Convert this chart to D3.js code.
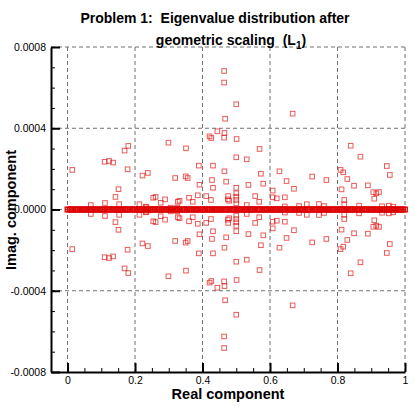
<!DOCTYPE html>
<html>
<head>
<meta charset="utf-8">
<script src="https://cdn.jsdelivr.net/npm/d3@7"></script>
<style>
  body { margin: 0; background: #fff; }
  svg { font-family: "Liberation Sans", Arial, Helvetica, sans-serif; }
</style>
</head>
<body>
<svg id="chart" width="415" height="417"></svg>
<script>
const width = 415;
const height = 417;

// eigenvalues lying on the real axis (imag = 0), densely packed
const realEigs = [
  0.000, 0.006, 0.011, 0.016, 0.022, 0.027, 0.032, 0.038, 0.043, 0.048,
  0.053, 0.059, 0.064, 0.069, 0.074, 0.080, 0.085, 0.090, 0.096, 0.101,
  0.106, 0.111, 0.117, 0.122, 0.127, 0.133, 0.138, 0.143, 0.148, 0.154,
  0.159, 0.164, 0.170, 0.175, 0.180, 0.185, 0.191, 0.196, 0.201, 0.207,
  0.212, 0.217, 0.222, 0.228, 0.233, 0.238, 0.244, 0.249, 0.254, 0.259,
  0.265, 0.270, 0.275, 0.281, 0.286, 0.291, 0.296, 0.302, 0.307, 0.312,
  0.318, 0.323, 0.328, 0.333, 0.339, 0.344, 0.349, 0.355, 0.360, 0.365,
  0.370, 0.376, 0.381, 0.386, 0.392, 0.397, 0.402, 0.407, 0.413, 0.418,
  0.423, 0.429, 0.434, 0.439, 0.444, 0.450, 0.455, 0.460, 0.466, 0.471,
  0.476, 0.481, 0.487, 0.492, 0.497, 0.503, 0.508, 0.513, 0.518, 0.524,
  0.529, 0.534, 0.540, 0.545, 0.550, 0.555, 0.561, 0.566, 0.571, 0.577,
  0.582, 0.587, 0.592, 0.598, 0.603, 0.608, 0.614, 0.619, 0.624, 0.629,
  0.635, 0.640, 0.645, 0.651, 0.656, 0.661, 0.666, 0.672, 0.677, 0.682,
  0.688, 0.693, 0.698, 0.703, 0.709, 0.714, 0.719, 0.725, 0.730, 0.735,
  0.740, 0.746, 0.751, 0.756, 0.762, 0.767, 0.772, 0.777, 0.783, 0.788,
  0.793, 0.799, 0.804, 0.809, 0.814, 0.820, 0.825, 0.830, 0.836, 0.841,
  0.846, 0.851, 0.857, 0.862, 0.867, 0.873, 0.878, 0.883, 0.888, 0.894,
  0.899, 0.904, 0.910, 0.915, 0.920, 0.925, 0.931, 0.936, 0.941, 0.947,
  0.952, 0.957, 0.962, 0.968, 0.973, 0.978, 0.984, 0.989, 0.994, 1.000
];

// complex conjugate pairs: real part and |imag| part (x 1e-4)
const pairRe = [
  0.014, 0.180, 0.169, 0.110, 0.123, 0.135, 0.178, 0.222, 0.238, 0.151,
  0.142, 0.111, 0.069, 0.153, 0.213, 0.234,
  0.464, 0.464, 0.467, 0.299, 0.351, 0.421, 0.426, 0.444, 0.465, 0.464,
  0.389, 0.431, 0.465, 0.319, 0.350, 0.356, 0.428, 0.470, 0.391, 0.431,
  0.386, 0.411, 0.360, 0.254, 0.261, 0.289, 0.371, 0.332, 0.327, 0.276,
  0.425, 0.476, 0.475, 0.479, 0.232, 0.306, 0.325,
  0.667, 0.500, 0.501, 0.569, 0.531, 0.500, 0.628, 0.573, 0.649, 0.725,
  0.671, 0.580, 0.536, 0.500, 0.500, 0.500, 0.500, 0.500, 0.556, 0.568,
  0.644, 0.620, 0.608, 0.608, 0.531, 0.686, 0.709, 0.745, 0.644,
  0.839, 0.868, 0.946, 0.955, 0.809, 0.817, 0.829, 0.849, 0.890, 0.767,
  0.812, 0.906, 0.915, 0.923, 0.909, 0.820, 0.820, 0.760, 0.864, 0.932,
  0.952, 0.965
];
const pairIm = [
  1.95, 3.13, 2.90, 2.35, 2.39, 2.31, 1.98, 1.67, 1.80, 1.00,
  0.62, 0.32, 0.22, 0.26, 0.26, 0.11,
  6.82, 6.25, 4.47, 3.29, 3.01, 3.60, 3.52, 3.85, 3.77, 3.54,
  2.16, 2.16, 1.88, 1.55, 1.63, 1.55, 1.45, 1.37, 1.22, 1.07,
  0.70, 0.66, 0.58, 0.58, 0.62, 0.50, 0.38, 0.43, 0.38, 0.33,
  0.47, 0.66, 0.50, 0.43, 0.14, 0.09, 0.09,
  4.72, 5.18, 3.47, 2.98, 2.47, 2.57, 1.88, 1.76, 1.40, 1.62,
  1.02, 1.27, 1.21, 1.07, 0.80, 0.63, 0.47, 0.30, 0.66, 0.38,
  0.60, 0.55, 0.93, 0.60, 0.22, 0.17, 0.26, 0.27, 0.15,
  3.14, 2.60, 2.14, 1.70, 1.95, 1.83, 1.50, 1.17, 1.19, 1.45,
  0.99, 0.85, 0.80, 0.86, 0.53, 0.47, 0.26, 0.17, 0.19, 0.16,
  0.19, 0.14
];

const xTicks = [0, 0.2, 0.4, 0.6, 0.8, 1];
const yTicks = [-0.0008, -0.0004, 0, 0.0004, 0.0008];

function complexPoints() {
  const pts = [];
  pairRe.forEach((r, i) => {
    pts.push({ re: r, im: pairIm[i] * 1e-4 });
    pts.push({ re: r, im: -pairIm[i] * 1e-4 });
  });
  return pts;
}

function drawChart() {
  const svg = d3.select("#chart");

  const x = d3.scaleLinear().domain([-0.049, 1]).range([51, 405]);
  const y = d3.scaleLinear().domain([-0.0008, 0.0008]).range([372, 47]);

  // dashed grid
  const grid = svg.append("g")
    .attr("stroke", "#707070")
    .attr("stroke-width", 1)
    .attr("stroke-dasharray", "4,3");

  grid.selectAll("line.v")
    .data(xTicks)
    .join("line")
      .attr("class", "v")
      .attr("x1", d => x(d)).attr("x2", d => x(d))
      .attr("y1", y(0.0008)).attr("y2", y(-0.0008));

  grid.selectAll("line.h")
    .data(yTicks.filter(d => d > -0.0008))
    .join("line")
      .attr("class", "h")
      .attr("x1", x(-0.049)).attr("x2", x(1))
      .attr("y1", d => y(d)).attr("y2", d => y(d));

  // eigenvalues as open squares
  const s = 4.6;
  svg.append("g")
    .attr("fill", "none")
    .attr("stroke", "#e00000")
    .attr("stroke-opacity", 0.65)
    .attr("stroke-width", 1)
    .selectAll("rect")
    .data(complexPoints())
    .join("rect")
      .attr("x", d => x(d.re) - s / 2)
      .attr("y", d => y(d.im) - s / 2)
      .attr("width", s)
      .attr("height", s);

  // real eigenvalues: so many squares they merge into a solid bar
  svg.append("g")
    .attr("fill", "none")
    .attr("stroke", "#dd0000")
    .attr("stroke-opacity", 0.9)
    .attr("stroke-width", 1.5)
    .selectAll("rect")
    .data(realEigs)
    .join("rect")
      .attr("x", d => x(d) - s / 2)
      .attr("y", y(0) - s / 2)
      .attr("width", s)
      .attr("height", s);

  // axes: minor ticks
  svg.append("g")
    .attr("transform", `translate(0,${y(-0.0008)})`)
    .call(d3.axisBottom(x).tickValues(d3.range(0.05, 1, 0.05)).tickSizeInner(-4).tickSizeOuter(0).tickFormat(""))
    .call(g => g.select(".domain").remove())
    .call(g => g.selectAll("line").attr("stroke-width", 1));

  svg.append("g")
    .attr("transform", `translate(${x(-0.049)},0)`)
    .call(d3.axisLeft(y).tickValues(d3.range(-0.0007, 0.0008, 0.0001)).tickSizeInner(-4).tickSizeOuter(0).tickFormat(""))
    .call(g => g.select(".domain").remove())
    .call(g => g.selectAll("line").attr("stroke-width", 1));

  // axes: major ticks with labels
  svg.append("g")
    .attr("transform", `translate(0,${y(-0.0008)})`)
    .call(d3.axisBottom(x).tickValues(xTicks).tickSizeInner(-9).tickSizeOuter(0).tickPadding(5).tickFormat(d => String(d)))
    .call(g => g.select(".domain").attr("stroke-width", 2))
    .call(g => g.selectAll("line").attr("stroke-width", 2))
    .call(g => g.selectAll("text").attr("font-size", 10.5).attr("fill", "#000").attr("font-family", null));

  svg.append("g")
    .attr("transform", `translate(${x(-0.049)},0)`)
    .call(d3.axisLeft(y).tickValues(yTicks).tickSizeInner(-9).tickSizeOuter(0).tickPadding(5).tickFormat(d => d.toFixed(4)))
    .call(g => g.select(".domain").attr("stroke-width", 2))
    .call(g => g.selectAll("line").attr("stroke-width", 2))
    .call(g => g.selectAll("text").attr("font-size", 10.5).attr("fill", "#000").attr("font-family", null));

  // axis titles
  svg.append("text")
    .attr("x", 228).attr("y", 399)
    .attr("text-anchor", "middle")
    .attr("font-weight", "bold").attr("font-size", 14.5)
    .text("Real component");

  svg.append("text")
    .attr("transform", "translate(16,210) rotate(-90)")
    .attr("text-anchor", "middle")
    .attr("font-weight", "bold").attr("font-size", 14.5)
    .text("Imag. component");

  // title
  svg.append("text")
    .attr("x", 215).attr("y", 23)
    .attr("text-anchor", "middle")
    .attr("font-weight", "bold").attr("font-size", 14)
    .text("Problem 1:\u00a0 Eigenvalue distribution after");

  const t2 = svg.append("text")
    .attr("x", 231).attr("y", 45)
    .attr("text-anchor", "middle")
    .attr("font-weight", "bold").attr("font-size", 14);
  t2.append("tspan").text("geometric scaling\u00a0 (L");
  t2.append("tspan").attr("font-size", 10).attr("dy", 4).text("1");
  t2.append("tspan").attr("dy", -4).text(")");
}

drawChart();
</script>
</body>
</html>
